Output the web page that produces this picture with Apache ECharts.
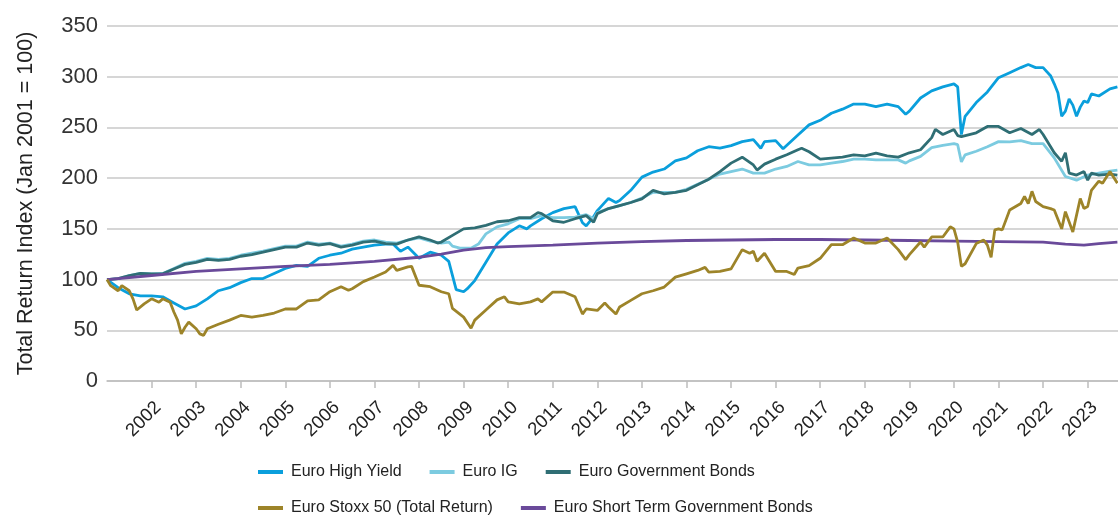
<!DOCTYPE html>
<html>
<head>
<meta charset="utf-8">
<script src="https://cdn.jsdelivr.net/npm/echarts@6/dist/echarts.min.js"></script>
<style>
  html, body { margin: 0; padding: 0; background: #fff; }
  #chart { width: 1118px; height: 517px; }
</style>
</head>
<body>
<div id="chart"></div>
<script>
// monthly readings, [month, index level]
const euroHighYield = [
  ['2001-01', 100], ['2001-04', 92], ['2001-07', 86], ['2001-10', 84], ['2002-01', 84],
  ['2002-04', 83], ['2002-07', 77], ['2002-10', 71], ['2003-01', 74], ['2003-04', 81],
  ['2003-07', 89], ['2003-10', 92], ['2004-01', 97], ['2004-04', 101], ['2004-07', 101],
  ['2004-10', 106], ['2005-01', 111], ['2005-04', 114], ['2005-07', 113], ['2005-10', 121],
  ['2006-01', 124], ['2006-04', 126], ['2006-07', 130], ['2006-10', 132], ['2007-01', 134],
  ['2007-04', 135], ['2007-06', 135], ['2007-08', 128], ['2007-10', 132], ['2008-01', 121],
  ['2008-04', 127], ['2008-07', 124], ['2008-09', 118], ['2008-11', 90], ['2009-01', 88],
  ['2009-02', 91], ['2009-04', 99], ['2009-07', 117], ['2009-10', 135], ['2010-01', 146],
  ['2010-04', 153], ['2010-06', 150], ['2010-07', 153], ['2010-10', 160], ['2011-01', 166],
  ['2011-04', 170], ['2011-07', 172], ['2011-09', 156], ['2011-10', 153], ['2011-12', 162],
  ['2012-01', 168], ['2012-04', 180], ['2012-06', 176], ['2012-07', 178], ['2012-10', 188],
  ['2013-01', 201], ['2013-04', 206], ['2013-07', 209], ['2013-10', 217], ['2014-01', 220],
  ['2014-04', 227], ['2014-07', 231], ['2014-10', 229.5], ['2015-01', 232], ['2015-04', 236],
  ['2015-07', 238], ['2015-09', 229.5], ['2015-10', 236], ['2016-01', 237], ['2016-03', 229],
  ['2016-07', 242.6], ['2016-10', 252.5], ['2017-01', 257], ['2017-04', 264], ['2017-07', 268],
  ['2017-10', 273], ['2018-01', 273], ['2018-04', 270.5], ['2018-07', 273], ['2018-10', 270.5],
  ['2018-12', 263], ['2019-01', 266], ['2019-04', 279], ['2019-07', 286], ['2019-10', 290],
  ['2020-01', 293], ['2020-02', 290], ['2020-03', 243], ['2020-04', 261], ['2020-07', 274.5],
  ['2020-10', 285], ['2021-01', 299], ['2021-04', 304], ['2021-07', 309], ['2021-09', 312],
  ['2021-11', 309], ['2022-01', 309], ['2022-03', 301], ['2022-04', 293], ['2022-05', 284],
  ['2022-06', 261], ['2022-07', 266], ['2022-08', 278], ['2022-09', 272], ['2022-10', 261],
  ['2022-11', 270], ['2022-12', 276], ['2023-01', 274.5], ['2023-02', 283], ['2023-04', 281],
  ['2023-07', 288], ['2023-09', 290]
];

const euroIG = [
  ['2001-01', 100], ['2001-04', 101], ['2001-07', 104], ['2001-10', 106], ['2002-01', 105.6],
  ['2002-04', 106], ['2002-07', 111], ['2002-10', 116], ['2003-01', 118], ['2003-04', 121],
  ['2003-07', 120], ['2003-10', 121], ['2004-01', 124], ['2004-04', 126], ['2004-07', 128],
  ['2004-10', 130.5], ['2005-01', 133], ['2005-04', 133], ['2005-07', 137], ['2005-10', 135],
  ['2006-01', 136], ['2006-04', 133], ['2006-07', 135], ['2006-10', 138], ['2007-01', 139],
  ['2007-04', 137], ['2007-07', 136], ['2007-10', 139], ['2008-01', 141], ['2008-04', 138],
  ['2008-07', 136], ['2008-09', 137], ['2008-10', 133], ['2008-12', 131], ['2009-03', 131],
  ['2009-05', 135], ['2009-07', 145], ['2009-10', 152], ['2010-01', 155], ['2010-04', 160],
  ['2010-07', 160], ['2010-10', 163], ['2011-01', 161], ['2011-04', 161], ['2011-07', 161.5],
  ['2011-10', 164], ['2011-12', 160], ['2012-01', 166], ['2012-04', 170], ['2012-07', 173],
  ['2012-10', 176], ['2013-01', 180.5], ['2013-04', 186], ['2013-07', 186], ['2013-10', 186],
  ['2014-01', 189], ['2014-04', 194], ['2014-07', 199], ['2014-10', 204], ['2015-01', 206.5],
  ['2015-04', 209], ['2015-07', 205], ['2015-10', 205], ['2016-01', 209], ['2016-04', 211.5],
  ['2016-07', 216.4], ['2016-10', 213], ['2017-01', 213], ['2017-04', 214.8], ['2017-07', 216.4],
  ['2017-10', 218.7], ['2018-01', 218.7], ['2018-04', 218], ['2018-07', 218], ['2018-10', 218],
  ['2018-12', 214.8], ['2019-01', 217], ['2019-04', 221.5], ['2019-07', 230], ['2019-10', 232.4],
  ['2020-01', 234], ['2020-02', 233], ['2020-03', 216], ['2020-04', 223], ['2020-07', 226.5],
  ['2020-10', 231], ['2021-01', 236], ['2021-04', 235.7], ['2021-07', 237], ['2021-10', 234],
  ['2022-01', 234], ['2022-04', 220], ['2022-07', 201.6], ['2022-10', 198], ['2023-01', 203],
  ['2023-04', 205], ['2023-07', 207], ['2023-09', 208]
];

const euroGovt = [
  ['2001-01', 100], ['2001-04', 101], ['2001-07', 104], ['2001-10', 106], ['2002-01', 105.6],
  ['2002-04', 105.6], ['2002-07', 110.5], ['2002-10', 115], ['2003-01', 117], ['2003-04', 120],
  ['2003-07', 119], ['2003-10', 120], ['2004-01', 123], ['2004-04', 124.6], ['2004-07', 127],
  ['2004-10', 129.5], ['2005-01', 132], ['2005-04', 132], ['2005-07', 136], ['2005-10', 134],
  ['2006-01', 135.4], ['2006-04', 132], ['2006-07', 134], ['2006-10', 137], ['2007-01', 138],
  ['2007-04', 135.4], ['2007-07', 135], ['2007-10', 139], ['2008-01', 142], ['2008-04', 139],
  ['2008-06', 136], ['2008-07', 137], ['2008-10', 143.6], ['2009-01', 150], ['2009-04', 151],
  ['2009-07', 153.5], ['2009-10', 157], ['2010-01', 158], ['2010-04', 161], ['2010-07', 161],
  ['2010-09', 166], ['2010-10', 165], ['2011-01', 158], ['2011-04', 156.5], ['2011-07', 160],
  ['2011-10', 163], ['2011-12', 156.5], ['2012-01', 165], ['2012-04', 170], ['2012-07', 173],
  ['2012-10', 176], ['2013-01', 179.5], ['2013-04', 188], ['2013-07', 184.5], ['2013-10', 186],
  ['2014-01', 188], ['2014-04', 193.6], ['2014-07', 199], ['2014-10', 206.5], ['2015-01', 214.8],
  ['2015-04', 220.7], ['2015-07', 213], ['2015-08', 208], ['2015-10', 213.8], ['2016-01', 218.7],
  ['2016-04', 223], ['2016-07', 228], ['2016-08', 229.5], ['2016-10', 226], ['2017-01', 218.7],
  ['2017-04', 219.7], ['2017-07', 220.7], ['2017-10', 223], ['2018-01', 222], ['2018-04', 224.6],
  ['2018-07', 222], ['2018-10', 220.7], ['2019-01', 225], ['2019-04', 228], ['2019-07', 240],
  ['2019-08', 248], ['2019-10', 243], ['2020-01', 248], ['2020-02', 242], ['2020-03', 241],
  ['2020-07', 244.7], ['2020-10', 251], ['2021-01', 251], ['2021-04', 244.7], ['2021-07', 249],
  ['2021-10', 243], ['2021-12', 248], ['2022-01', 243], ['2022-04', 225], ['2022-06', 216.6],
  ['2022-07', 225], ['2022-08', 205], ['2022-10', 203], ['2022-12', 206.6], ['2023-01', 198],
  ['2023-02', 205], ['2023-04', 203], ['2023-07', 204], ['2023-09', 203]
];

const euroStoxx50 = [
  ['2001-01', 100], ['2001-02', 94], ['2001-04', 89], ['2001-05', 94], ['2001-07', 89],
  ['2001-08', 81], ['2001-09', 70], ['2001-11', 76], ['2002-01', 81], ['2002-03', 77.7],
  ['2002-04', 81], ['2002-06', 77.7], ['2002-07', 68], ['2002-08', 60], ['2002-09', 46.5],
  ['2002-10', 53], ['2002-11', 58], ['2003-01', 51.5], ['2003-02', 46.5], ['2003-03', 45],
  ['2003-04', 51.5], ['2003-07', 56], ['2003-10', 60], ['2004-01', 64.6], ['2004-04', 63],
  ['2004-07', 64.6], ['2004-10', 67], ['2005-01', 71], ['2005-04', 71], ['2005-07', 79],
  ['2005-10', 80], ['2006-01', 88], ['2006-04', 93], ['2006-06', 89.5], ['2006-07', 91],
  ['2006-10', 98], ['2007-01', 102.6], ['2007-04', 107.5], ['2007-06', 114], ['2007-07', 109],
  ['2007-10', 112.5], ['2007-11', 113], ['2008-01', 94.4], ['2008-04', 93], ['2008-07', 88],
  ['2008-09', 86], ['2008-10', 71.5], ['2009-01', 63], ['2009-03', 52], ['2009-04', 60],
  ['2009-07', 70], ['2009-10', 80], ['2009-12', 83], ['2010-01', 78], ['2010-04', 76],
  ['2010-07', 78], ['2010-09', 81], ['2010-10', 78], ['2011-01', 87.7], ['2011-04', 87.7],
  ['2011-07', 83], ['2011-09', 66], ['2011-10', 71], ['2012-01', 69.6], ['2012-03', 77],
  ['2012-04', 73], ['2012-06', 66], ['2012-07', 73], ['2012-10', 79.5], ['2013-01', 86],
  ['2013-04', 89], ['2013-07', 92.6], ['2013-10', 102.4], ['2014-01', 105.7], ['2014-04', 109],
  ['2014-06', 112], ['2014-07', 107.4], ['2014-10', 108], ['2015-01', 110.5], ['2015-04', 129.5],
  ['2015-06', 126], ['2015-07', 128], ['2015-08', 118], ['2015-10', 126], ['2016-01', 108],
  ['2016-04', 108], ['2016-06', 105], ['2016-07', 111.4], ['2016-10', 113.7], ['2017-01', 121],
  ['2017-04', 134.4], ['2017-07', 134.4], ['2017-10', 141], ['2018-01', 136], ['2018-04', 136],
  ['2018-07', 141], ['2018-10', 129.5], ['2018-12', 119.6], ['2019-01', 124.6], ['2019-04', 137],
  ['2019-05', 132], ['2019-07', 142], ['2019-10', 142], ['2019-12', 152], ['2020-01', 150],
  ['2020-02', 137], ['2020-03', 113], ['2020-04', 115.6], ['2020-07', 135.5], ['2020-09', 139],
  ['2020-10', 134], ['2020-11', 122], ['2020-12', 149], ['2021-01', 150], ['2021-02', 149],
  ['2021-04', 168.6], ['2021-07', 175], ['2021-08', 182], ['2021-09', 175], ['2021-10', 187],
  ['2021-11', 177], ['2022-01', 172], ['2022-03', 170], ['2022-04', 168.6], ['2022-06', 150],
  ['2022-07', 167], ['2022-09', 147], ['2022-11', 180], ['2022-12', 170], ['2023-01', 172],
  ['2023-02', 188], ['2023-04', 197], ['2023-05', 195], ['2023-07', 206.6], ['2023-09', 195]
];

const euroShortGovt = [
  ['2001-01', 100], ['2002-01', 104], ['2003-01', 108], ['2004-01', 110.5], ['2005-01', 113],
  ['2006-01', 115], ['2007-01', 118], ['2008-01', 122], ['2008-07', 125], ['2009-01', 129],
  ['2009-07', 131.5], ['2010-01', 132.5], ['2011-01', 134], ['2012-01', 136], ['2013-01', 137.5],
  ['2014-01', 138.5], ['2015-01', 139], ['2016-01', 139.5], ['2017-01', 139.5], ['2018-01', 139],
  ['2019-01', 138.5], ['2020-01', 138], ['2021-01', 137.5], ['2022-01', 137], ['2022-07', 135],
  ['2022-12', 134], ['2023-04', 135.5], ['2023-09', 137]
];

const seriesNames = [
  'Euro High Yield', 'Euro IG', 'Euro Government Bonds',
  'Euro Stoxx 50 (Total Return)', 'Euro Short Term Government Bonds'
];
const seriesData = [euroHighYield, euroIG, euroGovt, euroStoxx50, euroShortGovt];
const seriesColors = ['#0a9fdc', '#7ccbe0', '#2f6e74', '#9d8429', '#6a4a9a'];

const yTicks = [0, 50, 100, 150, 200, 250, 300, 350];

// 'YYYY-MM' -> decimal year so the axis can tick on every January
const toYear = (s) => +s.slice(0, 4) + (+s.slice(5, 7) - 1) / 12;

const chart = echarts.init(document.getElementById('chart'));

const labelFont = "'Liberation Sans', Arial, sans-serif";

const series = seriesNames.map((name, i) => ({
  name,
  type: 'line',
  data: seriesData[i].map(([m, v]) => [toYear(m), v]),
  symbol: 'none',
  smooth: false,
  lineStyle: { width: 2.8, color: seriesColors[i] },
  itemStyle: { color: seriesColors[i] },
  z: i === 3 ? 3 : 2
}));

const legendBase = {
  icon: 'rect',
  itemWidth: 25,
  itemHeight: 4,
  itemGap: 28,
  left: 253,
  textStyle: { fontFamily: labelFont, fontSize: 16, color: '#222', padding: [0, 0, 0, 3] }
};

chart.setOption({
  animation: false,
  color: seriesColors,
  grid: { left: 107, right: 0, top: 26, bottom: 136 },
  legend: [
    Object.assign({}, legendBase, { top: 459, data: seriesNames.slice(0, 3) }),
    Object.assign({}, legendBase, { top: 495, data: seriesNames.slice(3) })
  ],
  xAxis: {
    type: 'value',
    min: 2001,
    max: 2023.68,
    interval: 1,
    axisLine: { show: true, lineStyle: { color: '#bdbdbd', width: 1.5 } },
    axisTick: { show: true, length: 7, lineStyle: { color: '#bdbdbd', width: 1.5 } },
    splitLine: { show: false },
    axisLabel: {
      rotate: 45,
      margin: 17,
      verticalAlign: 'top',
      fontFamily: labelFont,
      fontSize: 18.5,
      color: '#222',
      showMinLabel: false,
      showMaxLabel: false,
      formatter: (v) => (Number.isInteger(v) ? String(v) : '')
    }
  },
  yAxis: {
    type: 'value',
    min: yTicks[0],
    max: yTicks[yTicks.length - 1],
    interval: 50,
    name: 'Total Return Index (Jan 2001 = 100)',
    nameLocation: 'middle',
    nameGap: 70,
    nameTextStyle: { fontFamily: labelFont, fontSize: 21.5, color: '#222' },
    axisLine: { show: false },
    axisTick: { show: false },
    splitLine: { lineStyle: { color: '#c8c8c8', width: 1.5 } },
    axisLabel: { margin: 9, fontFamily: labelFont, fontSize: 22, color: '#333' }
  },
  series
});
</script>
</body>
</html>
